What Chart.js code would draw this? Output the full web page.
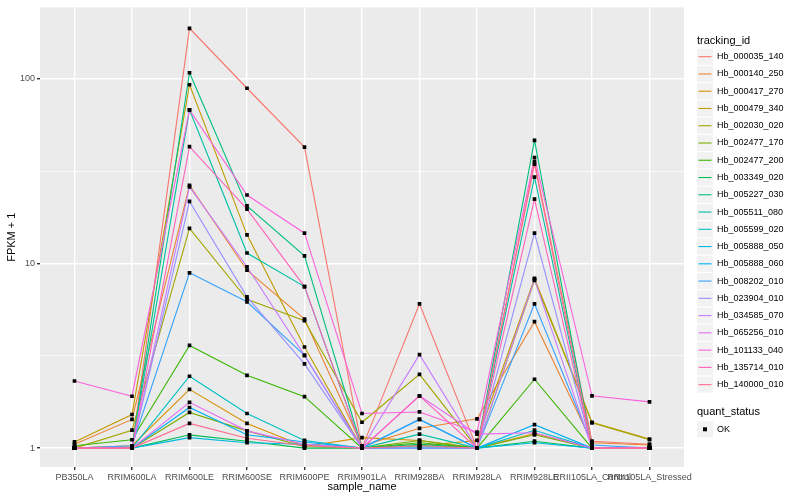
<!DOCTYPE html>
<html>
<head>
<meta charset="utf-8">
<script src="https://cdn.jsdelivr.net/npm/chart.js@4.4.1/dist/chart.umd.min.js"></script>
<style>
  html, body { margin: 0; padding: 0; background: #fff; }
</style>
</head>
<body>
<canvas id="chart" width="800" height="500"></canvas>
<script>
// x categories
const samples = ['PB350LA', 'RRIM600LA', 'RRIM600LE', 'RRIM600SE', 'RRIM600PE', 'RRIM901LA',
  'RRIM928BA', 'RRIM928LA', 'RRIM928LE', 'RRII105LA_Control', 'RRII105LA_Stressed'];

const trackingIds = ['Hb_000035_140', 'Hb_000140_250', 'Hb_000417_270', 'Hb_000479_340',
  'Hb_002030_020', 'Hb_002477_170', 'Hb_002477_200', 'Hb_003349_020', 'Hb_005227_030',
  'Hb_005511_080', 'Hb_005599_020', 'Hb_005888_050', 'Hb_005888_060', 'Hb_008202_010',
  'Hb_023904_010', 'Hb_034585_070', 'Hb_065256_010', 'Hb_101133_040', 'Hb_135714_010',
  'Hb_140000_010'];

// FPKM + 1, one value per sample
const hb000035_140 = [1.0, 1.0, 188, 89, 42.7, 1.0, 6.05, 1.0, 35.5, 1.09, 1.05];
const hb000140_250 = [1.05, 1.43, 26.5, 9.2, 5.0, 1.03, 1.28, 1.44, 4.84, 1.07, 1.04];
const hb000417_270 = [1.0, 1.03, 2.08, 1.36, 1.02, 1.14, 1.10, 1.0, 1.2, 1.0, 1.0];
const hb000479_340 = [1.08, 1.52, 93, 14.3, 3.53, 1.0, 1.03, 1.1, 8.3, 1.38, 1.12];
const hb002030_020 = [1.0, 1.25, 15.5, 6.4, 4.9, 1.38, 2.51, 1.0, 8.1, 1.37, 1.11];
const hb002477_170 = [1.0, 1.0, 1.56, 1.24, 1.02, 1.0, 1.10, 1.0, 1.18, 1.0, 1.0];
const hb002477_200 = [1.03, 1.11, 3.6, 2.48, 1.90, 1.0, 1.07, 1.0, 2.36, 1.0, 1.0];
const hb003349_020 = [1.0, 1.0, 1.18, 1.09, 1.0, 1.0, 1.05, 1.0, 1.09, 1.0, 1.0];
const hb005227_030 = [1.0, 1.0, 108, 20.5, 11.0, 1.0, 1.03, 1.0, 46.5, 1.0, 1.0];
const hb005511_080 = [1.0, 1.0, 68, 11.4, 7.5, 1.0, 1.19, 1.0, 29.4, 1.0, 1.0];
const hb005599_020 = [1.0, 1.0, 2.45, 1.54, 1.10, 1.0, 1.0, 1.0, 1.25, 1.0, 1.0];
const hb005888_050 = [1.0, 1.0, 1.14, 1.07, 1.05, 1.0, 1.0, 1.0, 1.07, 1.0, 1.0];
const hb005888_060 = [1.0, 1.0, 1.66, 1.18, 1.08, 1.0, 1.43, 1.0, 1.34, 1.0, 1.0];
const hb008202_010 = [1.0, 1.03, 8.9, 6.2, 3.18, 1.0, 1.43, 1.0, 6.05, 1.04, 1.0];
const hb023904_010 = [1.0, 1.0, 21.7, 6.6, 2.86, 1.0, 1.0, 1.0, 14.6, 1.0, 1.0];
const hb034585_070 = [1.0, 1.0, 26, 9.6, 3.18, 1.0, 3.21, 1.0, 8.2, 1.0, 1.0];
const hb065256_010 = [1.0, 1.0, 1.77, 1.24, 1.05, 1.0, 1.92, 1.19, 1.21, 1.0, 1.0];
const hb101133_040 = [2.31, 1.91, 68, 23.5, 14.6, 1.54, 1.57, 1.22, 37.5, 1.92, 1.78];
const hb135714_010 = [1.0, 1.0, 43, 19.7, 7.5, 1.0, 1.92, 1.0, 22.3, 1.0, 1.0];
const hb140000_010 = [1.0, 1.0, 1.36, 1.13, 1.03, 1.0, 1.03, 1.0, 34.5, 1.0, 1.0];

const seriesValues = [hb000035_140, hb000140_250, hb000417_270, hb000479_340, hb002030_020,
  hb002477_170, hb002477_200, hb003349_020, hb005227_030, hb005511_080, hb005599_020,
  hb005888_050, hb005888_060, hb008202_010, hb023904_010, hb034585_070, hb065256_010,
  hb101133_040, hb135714_010, hb140000_010];

const yMajor = [1, 10, 100];
const yMinor = [3.1623, 31.623];

// ggplot2 default hue palette for 20 groups
const colors = ['#F8766D', '#EA8331', '#D89000', '#C09B00', '#A3A500', '#7CAE00', '#39B600',
  '#00BB4E', '#00BF7D', '#00C1A3', '#00BFC4', '#00BAE0', '#00B0F6', '#35A2FF', '#9590FF',
  '#C77CFF', '#E76BF3', '#FA62DB', '#FF62BC', '#FF6C91'];

const FONT = '"Liberation Sans", Arial, Helvetica, sans-serif';
Chart.defaults.font.family = FONT;

const toPoints = vals => vals.map((v, i) => ({ x: i, y: v }));

const lineSets = seriesValues.map((vals, k) => ({
  type: 'line',
  label: trackingIds[k],
  data: toPoints(vals),
  borderColor: colors[k],
  borderWidth: 1.1,
  pointRadius: 0,
  tension: 0,
  fill: false,
  order: 100 - k   // later groups on top, like ggplot
}));

const pointSet = {
  type: 'scatter',
  label: 'OK',
  data: seriesValues.flatMap(toPoints),
  pointStyle: 'rect',
  pointRadius: 2.6,
  pointBorderWidth: 0,
  backgroundColor: '#000',
  order: 0
};

const isMajor = v => yMajor.some(m => Math.abs(m - v) < 1e-6);

// grey panel, axis titles and the two legends
const ggDecor = {
  id: 'ggDecor',
  beforeDraw(chart) {
    const { ctx, chartArea: a } = chart;
    ctx.save();
    ctx.fillStyle = '#EBEBEB';
    ctx.fillRect(a.left, a.top, a.right - a.left, a.bottom - a.top);
    ctx.restore();
  },
  afterDraw(chart) {
    const { ctx, chartArea: a } = chart;
    ctx.save();
    ctx.fillStyle = '#000';
    ctx.font = '11px ' + FONT;
    ctx.textAlign = 'center';
    ctx.textBaseline = 'middle';
    ctx.fillText('sample_name', (a.left + a.right) / 2, 487);
    ctx.save();
    ctx.translate(12, (a.top + a.bottom) / 2);
    ctx.rotate(-Math.PI / 2);
    ctx.fillText('FPKM + 1', 0, 0);
    ctx.restore();

    // tracking_id legend
    const lx = 697, box = 16, step = 17.26;
    ctx.textAlign = 'left';
    ctx.font = '11px ' + FONT;
    ctx.fillText('tracking_id', lx, 40.5);
    ctx.font = '9px ' + FONT;
    trackingIds.forEach((id, k) => {
      const cy = 56.7 + k * step;
      ctx.fillStyle = '#F2F2F2';
      ctx.fillRect(lx, cy - box / 2, box, box);
      ctx.strokeStyle = colors[k];
      ctx.lineWidth = 1.1;
      ctx.beginPath();
      ctx.moveTo(lx + 1.5, cy);
      ctx.lineTo(lx + box - 1.5, cy);
      ctx.stroke();
      ctx.fillStyle = '#000';
      ctx.fillText(id, lx + 20, cy);
    });

    // quant_status legend
    ctx.font = '11px ' + FONT;
    ctx.fillText('quant_status', lx, 412.3);
    const oy = 429.3;
    ctx.fillStyle = '#F2F2F2';
    ctx.fillRect(lx, oy - box / 2, box, box);
    ctx.fillStyle = '#000';
    ctx.fillRect(lx + box / 2 - 2, oy - 2, 4, 4);
    ctx.font = '9px ' + FONT;
    ctx.fillText('OK', lx + 20, oy);
    ctx.restore();
  }
};

new Chart(document.getElementById('chart'), {
  data: { datasets: [pointSet, ...lineSets] },
  options: {
    responsive: false,
    animation: false,
    events: [],
    layout: { padding: { left: 0, top: 5, right: 116, bottom: 0 } },
    plugins: { legend: { display: false }, tooltip: { enabled: false } },
    scales: {
      x: {
        type: 'linear',
        min: -0.6,
        max: 10.6,
        afterBuildTicks: s => { s.ticks = samples.map((_, i) => ({ value: i })); },
        afterFit: s => { s.height = 33; },
        border: { display: false },
        grid: { color: '#FFFFFF', lineWidth: 1.4, tickColor: '#333333', tickLength: 3 },
        ticks: {
          autoSkip: false,
          maxRotation: 0,
          minRotation: 0,
          padding: 2,
          color: '#4D4D4D',
          font: { size: 9 },
          callback: v => samples[v]
        }
      },
      y: {
        type: 'logarithmic',
        min: 0.79,
        max: 244,
        afterBuildTicks: s => {
          s.ticks = [...yMajor, ...yMinor].sort((p, q) => p - q).map(v => ({ value: v }));
        },
        afterFit: s => { s.width = 40; },
        border: { display: false },
        grid: {
          color: '#FFFFFF',
          lineWidth: c => (isMajor(c.tick.value) ? 1.4 : 0.7),
          tickColor: c => (isMajor(c.tick.value) ? '#333333' : 'rgba(0,0,0,0)'),
          tickLength: 3
        },
        ticks: {
          padding: 2,
          color: '#4D4D4D',
          font: { size: 9 },
          callback: v => (isMajor(v) ? String(v) : '')
        }
      }
    }
  },
  plugins: [ggDecor]
});
</script>
</body>
</html>
